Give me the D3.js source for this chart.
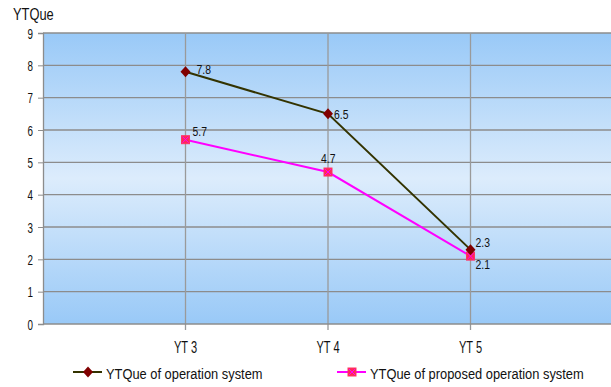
<!DOCTYPE html>
<html>
<head>
<meta charset="utf-8">
<script src="https://cdn.jsdelivr.net/npm/d3@7"></script>
<style>
  body { margin: 0; background: #fff; }
  text { font-family: "Liberation Sans", Arial, sans-serif; fill: #111; }
</style>
</head>
<body>
<div id="chart"></div>
<script>
// data
var categories = ["YT 3", "YT 4", "YT 5"];
var seriesNames = ["YTQue of operation system", "YTQue of proposed operation system"];
var currentSystem = [7.8, 6.5, 2.3];
var proposedSystem = [5.7, 4.7, 2.1];
var yTicks = [0, 1, 2, 3, 4, 5, 6, 7, 8, 9];

// label offsets (dx, dy) from each point to its label baseline
var labelOffsetsA = [[11, 2], [6, 5.5], [5, -3]];
var labelOffsetsB = [[7, -4], [-7, -9.5], [5, 13]];

var W = 611, H = 387;
var margin = { top: 33, right: -2, bottom: 63, left: 43 },
    width = W - margin.left - margin.right,
    height = H - margin.top - margin.bottom;

var svg = d3.select("#chart")
    .append("svg")
    .attr("width", W)
    .attr("height", H);

// narrow text: the original uses a squeezed Arial
function narrowText(sel, x, y, str, size, sx, anchor) {
    return sel.append("text")
        .attr("transform", "translate(" + x + "," + y + ") scale(" + sx + ",1)")
        .attr("font-size", size + "px")
        .attr("text-anchor", anchor || "start")
        .text(str);
}

var defs = svg.append("defs");
var grad = defs.append("linearGradient")
    .attr("id", "bg")
    .attr("x1", 0).attr("y1", 0).attr("x2", 0).attr("y2", 1);
grad.append("stop").attr("offset", "0%").attr("stop-color", "#99c9f7");
grad.append("stop").attr("offset", "50%").attr("stop-color", "#dcecfc");
grad.append("stop").attr("offset", "100%").attr("stop-color", "#99c9f7");

var g = svg.append("g")
    .attr("transform", "translate(" + margin.left + "," + margin.top + ")");

var x = d3.scaleLinear()
    .domain([0, categories.length + 1])
    .range([0, width]);

var y = d3.scaleLinear()
    .domain([0, 9])
    .range([height, 0]);

// plot background
g.append("rect")
    .attr("width", width)
    .attr("height", height)
    .attr("fill", "url(#bg)");

// horizontal gridlines
g.append("g")
    .selectAll("line")
    .data(yTicks.slice(1))
    .enter()
    .append("line")
    .attr("x1", 0).attr("x2", width)
    .attr("y1", function(d) { return y(d); })
    .attr("y2", function(d) { return y(d); })
    .attr("stroke", "#8c8c8c")
    .attr("stroke-width", 1.3);

// vertical gridlines (through the category positions, down past the axis)
g.append("g")
    .selectAll("line")
    .data(categories)
    .enter()
    .append("line")
    .attr("x1", function(d, i) { return x(i + 1); })
    .attr("x2", function(d, i) { return x(i + 1); })
    .attr("y1", 0).attr("y2", height + 6)
    .attr("stroke", "#9a9a9a")
    .attr("stroke-width", 1.3);

// y axis
var yAxis = g.append("g")
    .call(d3.axisLeft(y).tickValues(yTicks).tickSize(5).tickFormat(""));
yAxis.select(".domain").attr("stroke", "#8c8c8c").attr("stroke-width", 1.3);
yAxis.selectAll(".tick line").attr("stroke", "#8c8c8c");
yAxis.selectAll(".tick").each(function(d) {
    narrowText(d3.select(this), -10, 5, d, 14.5, 0.68, "end");
});

// x axis line
g.append("line")
    .attr("x1", 0).attr("x2", width)
    .attr("y1", height).attr("y2", height)
    .attr("stroke", "#8c8c8c")
    .attr("stroke-width", 1.3);

// category labels
categories.forEach(function(c, i) {
    narrowText(g, x(i + 1), height + 29, c, 17, 0.65, "middle");
});

// y title
narrowText(svg, 13, 20, "YTQue", 16.5, 0.78);

var line = d3.line()
    .x(function(d, i) { return x(i + 1); })
    .y(function(d) { return y(d); });

// series B (proposed)
g.append("path")
    .datum(proposedSystem)
    .attr("d", line)
    .attr("fill", "none")
    .attr("stroke", "#ff00ff")
    .attr("stroke-width", 2);

// series A (current)
g.append("path")
    .datum(currentSystem)
    .attr("d", line)
    .attr("fill", "none")
    .attr("stroke", "#333300")
    .attr("stroke-width", 2);

function squareMarker(sel, cx, cy) {
    sel.append("rect")
        .attr("x", cx - 4).attr("y", cy - 4)
        .attr("width", 8).attr("height", 8)
        .attr("fill", "#ff2a55")
        .attr("stroke", "#ff3366");
    sel.append("path")
        .attr("d", "M" + (cx - 3) + "," + (cy - 3) + "L" + (cx + 3) + "," + (cy + 3) +
                   "M" + (cx + 3) + "," + (cy - 3) + "L" + (cx - 3) + "," + (cy + 3))
        .attr("stroke", "#ff00ff")
        .attr("stroke-width", 1);
}

function diamondMarker(sel, cx, cy) {
    sel.append("path")
        .attr("d", "M" + cx + "," + (cy - 5.5) + "L" + (cx + 5) + "," + cy +
                   "L" + cx + "," + (cy + 5.5) + "L" + (cx - 5) + "," + cy + "Z")
        .attr("fill", "#800000");
}

var mB = g.append("g");
proposedSystem.forEach(function(d, i) { squareMarker(mB, x(i + 1), y(d)); });
var mA = g.append("g");
currentSystem.forEach(function(d, i) { diamondMarker(mA, x(i + 1), y(d)); });

// data labels
currentSystem.forEach(function(d, i) {
    narrowText(g, x(i + 1) + labelOffsetsA[i][0], y(d) + labelOffsetsA[i][1], d, 13, 0.8);
});
proposedSystem.forEach(function(d, i) {
    narrowText(g, x(i + 1) + labelOffsetsB[i][0], y(d) + labelOffsetsB[i][1], d, 13, 0.8);
});

// legend
var legendX = [73, 337];
var leg = svg.append("g").attr("transform", "translate(0,372)");
seriesNames.forEach(function(name, i) {
    var lx = legendX[i];
    leg.append("line")
        .attr("x1", lx).attr("x2", lx + 29)
        .attr("y1", 0).attr("y2", 0)
        .attr("stroke", i === 0 ? "#333300" : "#ff00ff")
        .attr("stroke-width", 2);
    if (i === 0) diamondMarker(leg, lx + 15, 0);
    else squareMarker(leg, lx + 15, 0);
    narrowText(leg, lx + 33, 6.5, name, 15.5, 0.83);
});
</script>
</body>
</html>
